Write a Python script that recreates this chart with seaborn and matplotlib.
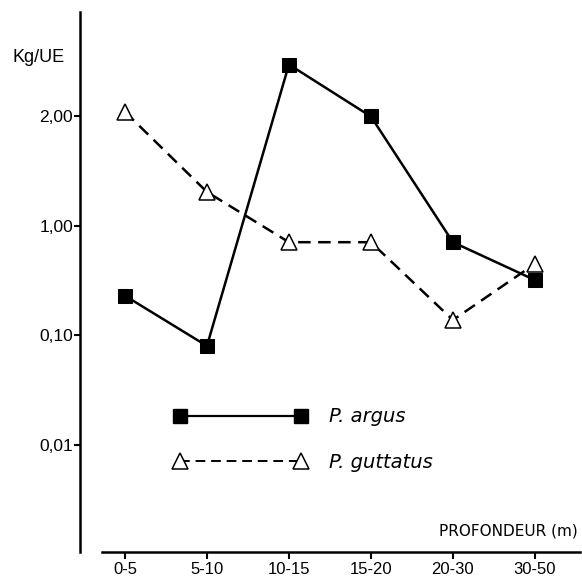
import numpy as np
import pandas as pd
import matplotlib
matplotlib.use("Agg")
import matplotlib.pyplot as plt
import seaborn as sns
from matplotlib.lines import Line2D

# ---- data ----
depths = ["0-5", "5-10", "10-15", "15-20", "20-30", "30-50"]
argus = [0.23, 0.08, 2.78, 2.00, 0.71, 0.32]
guttatus = [2.06, 1.24, 0.71, 0.71, 0.138, 0.45]
series_names = ["P. argus", "P. guttatus"]
ytick_vals = [0.01, 0.10, 1.00, 2.00]
ytick_labels = ["0,01", "0,10", "1,00", "2,00"]

df = pd.DataFrame({
    "depth": depths * 2,
    "pos": list(range(len(depths))) * 2,
    "val": argus + guttatus,
    "species": [series_names[0]] * len(depths) + [series_names[1]] * len(depths),
})

sns.set_style("white")
plt.rcParams["font.family"] = ["Liberation Sans", "DejaVu Sans"]
plt.rcParams["text.color"] = "black"
plt.rcParams["axes.labelcolor"] = "black"
plt.rcParams["xtick.color"] = "black"
plt.rcParams["ytick.color"] = "black"

W, H = 582, 586
fig = plt.figure(figsize=(W / 100, H / 100), dpi=100)
ax = fig.add_axes([102 / W, (H - 552) / H, (580 - 102) / W, (552 - 12) / H])


# irregular axis of the original: log decades up to 1, then 1 -> 2 spans one unit
def fwd(v):
    v = np.clip(np.asarray(v, dtype=float), 1e-6, None)
    return np.where(v <= 1, np.log10(v) + 2, 2 + np.log2(v))


def inv(u):
    u = np.asarray(u, dtype=float)
    return np.where(u <= 2, 10 ** (u - 2), 2 ** (u - 2))


ax.set_yscale("function", functions=(fwd, inv))

sns.lineplot(
    data=df, x="pos", y="val", style="species", hue="species",
    palette={series_names[0]: "black", series_names[1]: "black"},
    markers={series_names[0]: "s", series_names[1]: "^"},
    dashes={series_names[0]: "", series_names[1]: (5, 3)},
    linewidth=1.8, markersize=10, ax=ax, legend=False,
)
for ln in ax.get_lines():
    if ln.get_marker() == "^":
        ln.set_markerfacecolor("white")
        ln.set_markeredgecolor("black")
        ln.set_markeredgewidth(1.1)
        ln.set_markersize(11)
    else:
        ln.set_markerfacecolor("black")
        ln.set_markeredgecolor("black")

ax.set_xlim(-0.28, 5.55)
ax.set_ylim(inv(-0.98), inv(3.955))
ax.set_xticks(range(len(depths)))
ax.set_xticklabels(depths)
ax.set_yticks(ytick_vals)
ax.set_yticklabels(ytick_labels)
ax.yaxis.set_minor_locator(matplotlib.ticker.NullLocator())
ax.set_xlabel("")
ax.set_ylabel("")

for s in ["top", "right"]:
    ax.spines[s].set_visible(False)
ax.spines["left"].set_position(("outward", 22 * 0.72))
for s in ["left", "bottom"]:
    ax.spines[s].set_linewidth(1.8)
    ax.spines[s].set_color("black")
ax.tick_params(axis="y", direction="out", length=4, width=1.5, pad=1, left=True,
               colors="black", labelsize=12.5)
ax.tick_params(axis="x", direction="out", length=5, width=1.5, pad=2, bottom=True,
               colors="black", labelsize=12)

# legend
handles = [
    Line2D([], [], color="black", lw=1.6, marker="s", markersize=10),
    Line2D([], [], color="black", lw=1.4, ls=(0, (5, 3)), marker="^", markersize=11,
           markerfacecolor="white", markeredgecolor="black", markeredgewidth=1.1),
]
ax.legend(handles, series_names, loc="upper left", bbox_to_anchor=(157 / W, 1 - 390 / H),
          bbox_transform=fig.transFigure, frameon=False, numpoints=2,
          handlelength=6.8, handletextpad=1.15, labelspacing=1.37, labelcolor="black",
          prop={"style": "italic", "size": 14, "family": "DejaVu Sans"})

fig.text(12 / W, 1 - 57 / H, "Kg/UE", fontsize=13, ha="left", va="center", color="black")
fig.text(578 / W, 1 - 531 / H, "PROFONDEUR (m)", fontsize=11, ha="right", va="center",
         color="black", family=["Liberation Sans Narrow", "DejaVu Sans"])

fig.savefig("out.png", dpi=100, facecolor="white")
